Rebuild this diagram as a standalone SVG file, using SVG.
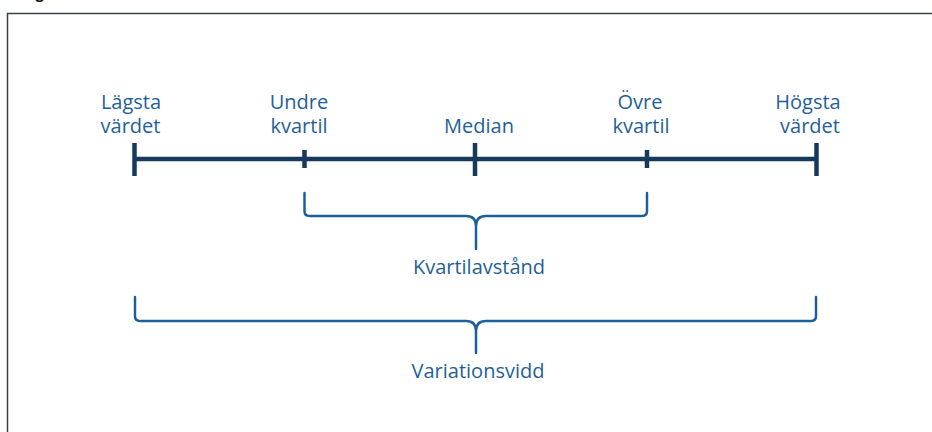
<svg xmlns="http://www.w3.org/2000/svg" width="932" height="432" viewBox="0 0 932 432">
<style>
.lbl{font-family:"Open Sans","Noto Sans","Liberation Sans",sans-serif;font-size:20px;fill:#1f5f99;text-anchor:middle}
.axis{stroke:#17395c;stroke-width:4.5;fill:none}
.brace{stroke:#1f5f99;stroke-width:2.5;fill:none;stroke-linecap:round;stroke-linejoin:round}
.title{font-family:"Liberation Sans",Arial,sans-serif;font-weight:bold;font-size:17px;fill:#111}
</style>
<rect width="932" height="432" fill="#ffffff"/>
<text class="title" x="8" y="-1">Diagram</text>
<rect x="7.5" y="13.5" width="940" height="440" fill="none" stroke="#3b4047" stroke-width="1.5"/>
<g id="connectors">
<line class="axis" x1="134.5" y1="159" x2="816.5" y2="159"/>
</g>
<g id="lagsta">
<line class="axis" x1="134.5" y1="143" x2="134.5" y2="176"/>
<text class="lbl" y="108.5"><tspan x="131">Lägsta</tspan><tspan x="130.5" dy="24">värdet</tspan></text>
</g>
<g id="undre">
<line class="axis" x1="304.5" y1="150" x2="304.5" y2="168"/>
<text class="lbl" y="108.5"><tspan x="299">Undre</tspan><tspan x="299" dy="24">kvartil</tspan></text>
</g>
<g id="median">
<line class="axis" x1="475" y1="143" x2="475" y2="176"/>
<text class="lbl" x="479" y="132.5">Median</text>
</g>
<g id="ovre">
<line class="axis" x1="647" y1="150" x2="647" y2="168"/>
<text class="lbl" y="108.5"><tspan x="640">Övre</tspan><tspan x="641" dy="24">kvartil</tspan></text>
</g>
<g id="hogsta">
<line class="axis" x1="816.5" y1="143" x2="816.5" y2="176"/>
<text class="lbl" y="108.5"><tspan x="808">Högsta</tspan><tspan x="810" dy="24">värdet</tspan></text>
</g>
<g id="kvartilavstand">
<path class="brace" d="M304.5,193 V211 Q304.5,216 309.5,216 H466 Q476,216 476,226 V249 M476,226 Q476,216 486,216 H642 Q647,216 647,211 V193"/>
<text class="lbl" x="479" y="273.5">Kvartilavstånd</text>
</g>
<g id="variationsvidd">
<path class="brace" d="M135,297 V316 Q135,321 140,321 H466 Q476,321 476,331 V353 M476,331 Q476,321 486,321 H811 Q816,321 816,316 V297"/>
<text class="lbl" x="478" y="378">Variationsvidd</text>
</g>
</svg>
